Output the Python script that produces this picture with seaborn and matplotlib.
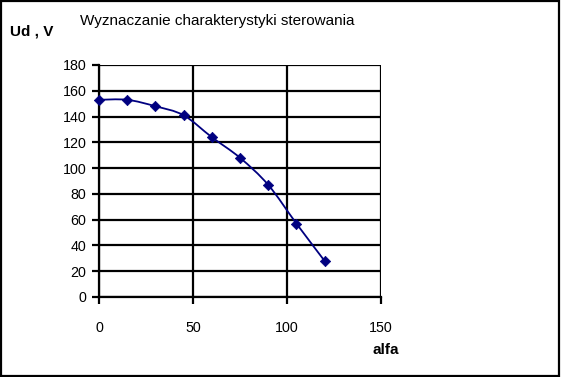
import matplotlib
matplotlib.use("Agg")
import matplotlib.pyplot as plt
import seaborn as sns
import numpy as np
from matplotlib.path import Path
from matplotlib.patches import PathPatch, Rectangle

alfa = [0, 15, 30, 45, 60, 75, 90, 105, 120]
ud = [153, 153, 148, 141, 124, 108, 87, 57, 28]
x_ticks = [0, 50, 100, 150]
y_ticks = [0, 20, 40, 60, 80, 100, 120, 140, 160, 180]
title = "Wyznaczanie charakterystyki sterowania"
y_label = "Ud , V"
x_label = "alfa"

sns.set_theme(style="white")
plt.rcParams['font.family'] = ['Liberation Sans', 'DejaVu Sans']

navy = "#000080"
fig = plt.figure(figsize=(5.62, 3.77), dpi=100)
ax = fig.add_axes([99 / 562, 1 - 297 / 377, 282 / 562, 232 / 377])

# smoothed (Excel-like) line through the data points, using Bezier segments
pts = np.column_stack([alfa, ud]).astype(float)
verts = [tuple(pts[0])]
codes = [Path.MOVETO]
n = len(pts)
for i in range(n - 1):
    p0 = pts[i - 1] if i > 0 else pts[i]
    p1 = pts[i]
    p2 = pts[i + 1]
    p3 = pts[i + 2] if i + 2 < n else pts[i + 1]
    c1 = p1 + (p2 - p0) / 6.0
    c2 = p2 - (p3 - p1) / 6.0
    verts += [tuple(c1), tuple(c2), tuple(p2)]
    codes += [Path.CURVE4] * 3
ax.add_patch(PathPatch(Path(verts, codes), fill=False, edgecolor=navy, lw=1.3, zorder=3))

sns.scatterplot(x=alfa, y=ud, marker="D", color=navy, s=28, edgecolor=navy,
                linewidth=0.5, ax=ax, zorder=4, clip_on=False)

ax.set_xlim(0, 150)
ax.set_ylim(0, 180)
ax.set_xticks(x_ticks)
ax.set_yticks(y_ticks)
ax.grid(True, color="black", lw=1.6)
ax.set_axisbelow(True)
for s in ax.spines.values():
    s.set_visible(False)
ax.spines['left'].set_visible(True)
ax.spines['bottom'].set_visible(True)
ax.spines['left'].set_color("black")
ax.spines['bottom'].set_color("black")
ax.spines['left'].set_linewidth(1.6)
ax.spines['bottom'].set_linewidth(1.6)
ax.tick_params(axis='both', which='major', direction='out', length=5, width=1.6,
               color='black', labelsize=10.3, labelcolor='black',
               left=True, bottom=True)
ax.tick_params(axis='x', pad=12)
ax.tick_params(axis='y', pad=4)
ax.set_xlabel("")
ax.set_ylabel("")

fig.text(217 / 562, 1 - 21 / 377, title, ha="center", va="center", fontsize=11, color="black")
fig.text(10 / 562, 1 - 31 / 377, y_label, ha="left", va="center", fontsize=11,
         fontweight="bold", color="black")
fig.text(386 / 562, 1 - 350 / 377, x_label, ha="center", va="center", fontsize=11,
         fontweight="bold", color="black")

fig.patches.append(Rectangle((0.002, 0.003), 0.993, 0.994, transform=fig.transFigure,
                             fill=False, edgecolor="black", lw=1.6))

fig.savefig("out.png", dpi=100, facecolor="white")
